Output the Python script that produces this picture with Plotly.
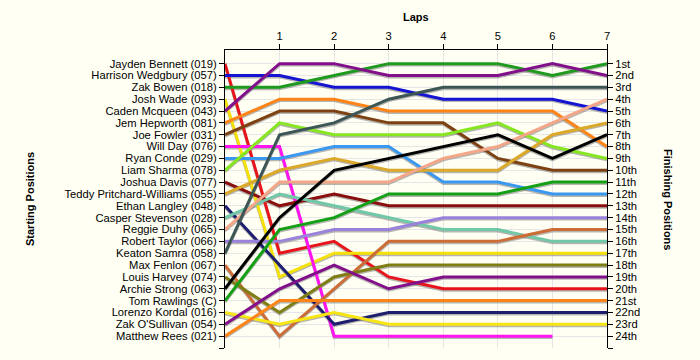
import plotly.graph_objects as go

laps = [0, 1, 2, 3, 4, 5, 6, 7]

drivers = [
    "Jayden Bennett (019)", "Harrison Wedgbury (057)", "Zak Bowen (018)", "Josh Wade (093)",
    "Caden Mcqueen (043)", "Jem Hepworth (081)", "Joe Fowler (031)", "Will Day (076)",
    "Ryan Conde (029)", "Liam Sharma (078)", "Joshua Davis (077)", "Teddy Pritchard-Williams (055)",
    "Ethan Langley (048)", "Casper Stevenson (028)", "Reggie Duhy (065)", "Robert Taylor (066)",
    "Keaton Samra (058)", "Max Fenlon (067)", "Louis Harvey (074)", "Archie Strong (063)",
    "Tom Rawlings (C)", "Lorenzo Kordal (016)", "Zak O'Sullivan (054)", "Matthew Rees (021)",
]

positions = [
    [1, 17, 16, 19, 20, 20, 20, 20],
    [2, 2, 3, 3, 4, 4, 4, 5],
    [3, 3, 2, 1, 1, 1, 2, 1],
    [4, 19, 17, 17, 17, 17, 17, 17],
    [5, 1, 1, 2, 2, 2, 1, 2],
    [6, 4, 4, 5, 5, 5, 5, 8],
    [7, 5, 5, 6, 6, 9, 10, 10],
    [8, 8, 24, 24, 24, 24, 24, None],
    [9, 9, 8, 8, 11, 11, 12, 12],
    [10, 6, 7, 7, 7, 6, 8, 9],
    [11, 13, 12, 13, 13, 13, 13, 13],
    [12, 10, 9, 10, 10, 10, 7, 6],
    [13, 18, 23, 22, 22, 22, 22, 22],
    [14, 12, 13, 14, 15, 15, 16, 16],
    [15, 11, 11, 11, 9, 8, 6, 4],
    [16, 16, 15, 15, 14, 14, 14, 14],
    [17, 7, 6, 4, 3, 3, 3, 3],
    [18, 24, 20, 16, 16, 16, 15, 15],
    [19, 22, 19, 18, 18, 18, 18, 18],
    [20, 14, 10, 9, 8, 7, 9, 7],
    [21, 15, 14, 12, 12, 12, 11, 11],
    [22, 23, 22, 23, 23, 23, 23, 23],
    [23, 20, 18, 20, 19, 19, 19, 19],
    [24, 21, 21, 21, 21, 21, 21, 21],
]

colors = [
    "#E8141B", "#1414D2", "#1E9A1E", "#F5E10A", "#82108A", "#FF8418", "#7E4212", "#FF14F0",
    "#3A98F0", "#86E620", "#8A0E0E", "#DCA82A", "#1E1E6E", "#70C8A8", "#F4A688", "#9A82DC",
    "#3C5555", "#CC6C36", "#7E7E14", "#000000", "#14A014", "#F8E614", "#82108A", "#FF8418",
]

finish_labels = ["1st", "2nd", "3rd"] + [f"{i}th" for i in range(4, 21)] + ["21st", "22nd", "23rd", "24th"]

fig = go.Figure()

# shadows
for pos in positions:
    fig.add_trace(go.Scatter(
        x=laps, y=[p + 0.12 if p is not None else None for p in pos],
        mode="lines", line=dict(color="rgba(110,110,110,0.5)", width=3),
        hoverinfo="skip", showlegend=False))

for name, pos, col in zip(drivers, positions, colors):
    fig.add_trace(go.Scatter(
        x=laps, y=pos, mode="lines", name=name,
        line=dict(color=col, width=3), showlegend=False))

# invisible trace to anchor right axis
fig.add_trace(go.Scatter(x=[0], y=[1], yaxis="y2", mode="markers",
                         marker=dict(opacity=0), hoverinfo="skip", showlegend=False))

L, R, T, B = 225, 607, 50, 348
yr = [25, -0.15]
font = dict(family="Liberation Sans, Arial, sans-serif", size=11.2, color="#000000")
tfont = dict(family="Liberation Sans, Arial, sans-serif", size=11, color="#000000")

fig.update_layout(
    width=700, height=360,
    paper_bgcolor="#FFFFF4", plot_bgcolor="#FFFFF4",
    margin=dict(l=L, r=700 - R, t=T, b=360 - B, autoexpand=False),
    font=font,
    xaxis=dict(side="top", range=[0, 7], tickvals=[1, 2, 3, 4, 5, 6, 7],
               ticks="outside", ticklen=5, tickcolor="#000", automargin=False,
               showline=True, linecolor="#000", linewidth=1, mirror=False,
               showgrid=True, gridcolor="#E6E6E6", gridwidth=1, zeroline=False,
               tickfont=font),
    yaxis=dict(range=yr, tickvals=list(range(1, 26)), ticktext=drivers + [""],
               ticks="outside", ticklen=5, tickcolor="#000", automargin=False,
               showline=True, linecolor="#000", linewidth=1,
               showgrid=True, gridcolor="#E6E6E6", gridwidth=1, zeroline=False,
               tickfont=font),
    yaxis2=dict(range=yr, overlaying="y", side="right",
                tickvals=list(range(1, 26)), ticktext=finish_labels + [""],
                ticks="outside", ticklen=5, tickcolor="#000", automargin=False,
                showline=True, linecolor="#000", linewidth=1,
                showgrid=False, zeroline=False, tickfont=font),
)

W, H = R - L, B - T
titles = [("<b>Laps</b>", 0, 416, 17), ("<b>Starting Positions</b>", -90, 30, 199),
          ("<b>Finishing Positions</b>", 90, 668, 199)]
for text, ang, px, py in titles:
    fig.add_annotation(text=text, textangle=ang, x=(px - L) / W, y=(B - py) / H,
                       xref="paper", yref="paper", showarrow=False,
                       xanchor="center", yanchor="middle", font=tfont)

fig.write_html("out.html", config={"displayModeBar": False},
               post_script="document.body.style.margin='0';document.body.style.background='#FFFFF4';")
